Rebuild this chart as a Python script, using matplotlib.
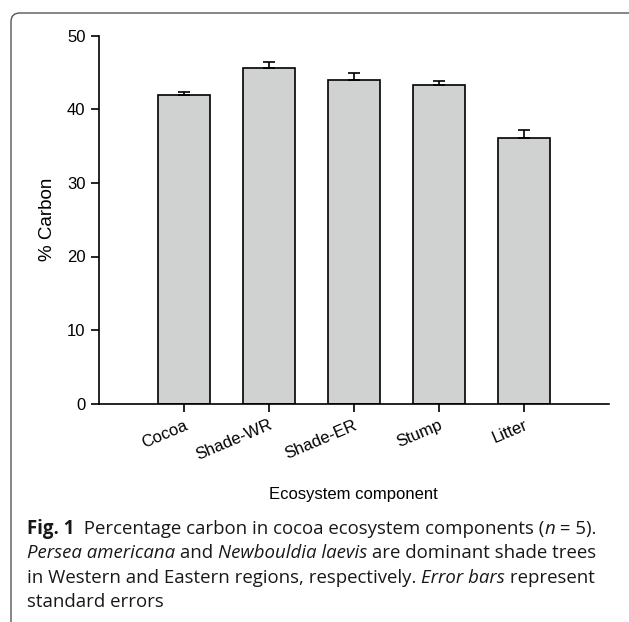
import matplotlib
matplotlib.use('Agg')
import matplotlib.pyplot as plt
from matplotlib.patches import FancyBboxPatch

# data
components = ['Cocoa', 'Shade-WR', 'Shade-ER', 'Stump', 'Litter']
carbon_pct = [42.0, 45.6, 44.0, 43.35, 36.15]
carbon_se = [0.35, 0.8, 1.0, 0.55, 1.05]
y_ticks = [0, 10, 20, 30, 40, 50]

W, H = 629, 622
fig = plt.figure(figsize=(W / 100, H / 100), dpi=100)
plt.rcParams['font.family'] = ['Liberation Sans', 'DejaVu Sans']

# rounded frame around figure + caption (cut at right/bottom like the page)
frame = FancyBboxPatch((11 / W, 1 - 640 / H), 700 / W, 627 / H,
                       boxstyle='round,pad=0,rounding_size=0.014',
                       transform=fig.transFigure, fill=False,
                       edgecolor='#555555', linewidth=1.0, clip_on=False)
fig.patches.append(frame)

ax = fig.add_axes([98.7 / W, 1 - 403.7 / H, (609 - 98.7) / W, (403.7 - 35.7) / H])
pos = list(range(len(components)))
lower = [0] * len(carbon_se)
ax.bar(pos, carbon_pct, width=0.61, color='#d0d2d1', edgecolor='black',
       linewidth=1.2, zorder=2)
ax.errorbar(pos, carbon_pct, yerr=[lower, carbon_se], fmt='none',
            ecolor='black', elinewidth=1.2, capsize=4.5, capthick=1.2, zorder=3)

ax.set_xlim(-1, 5)
ax.set_ylim(0, 50)
ax.set_yticks(y_ticks)
ax.set_xticks(pos)
ax.set_xticklabels(components, rotation=23, ha='right', rotation_mode='anchor',
                   fontsize=12)
ax.tick_params(axis='y', labelsize=12, length=6, width=1.2, direction='out')
ax.tick_params(axis='x', length=6, width=1.2, direction='out', pad=4)
for s in ['top', 'right']:
    ax.spines[s].set_visible(False)
for s in ['left', 'bottom']:
    ax.spines[s].set_linewidth(1.2)
ax.set_ylabel('% Carbon', fontsize=13.5, labelpad=8)

fig.text(353.5 / W, 1 - 499 / H, 'Ecosystem component', ha='center',
         va='baseline', fontsize=12)

# caption, laid out run by run
renderer = fig.canvas.get_renderer()
cap_font = 'Open Sans'
cap_size = 13.4
cap_color = '#1a1718'
caption = [
    [('Fig. 1', 'bold', 'normal'), ('  Percentage carbon in cocoa ecosystem components (', 'normal', 'normal'),
     ('n', 'normal', 'italic'), (' = 5).', 'normal', 'normal')],
    [('Persea americana', 'normal', 'italic'), (' and ', 'normal', 'normal'),
     ('Newbouldia laevis', 'normal', 'italic'), (' are dominant shade trees', 'normal', 'normal')],
    [('in Western and Eastern regions, respectively. ', 'normal', 'normal'),
     ('Error bars', 'normal', 'italic'), (' represent', 'normal', 'normal')],
    [('standard errors', 'normal', 'normal')],
]
baselines = [534, 558, 583, 607]
for line, yb in zip(caption, baselines):
    x = 27
    for txt, weight, style in line:
        t = fig.text(x / W, 1 - yb / H, txt, ha='left', va='baseline',
                     fontsize=cap_size, family=cap_font, weight=weight,
                     style=style, color=cap_color)
        bb = t.get_window_extent(renderer)
        x += bb.width

fig.savefig('out.png', dpi=100)
